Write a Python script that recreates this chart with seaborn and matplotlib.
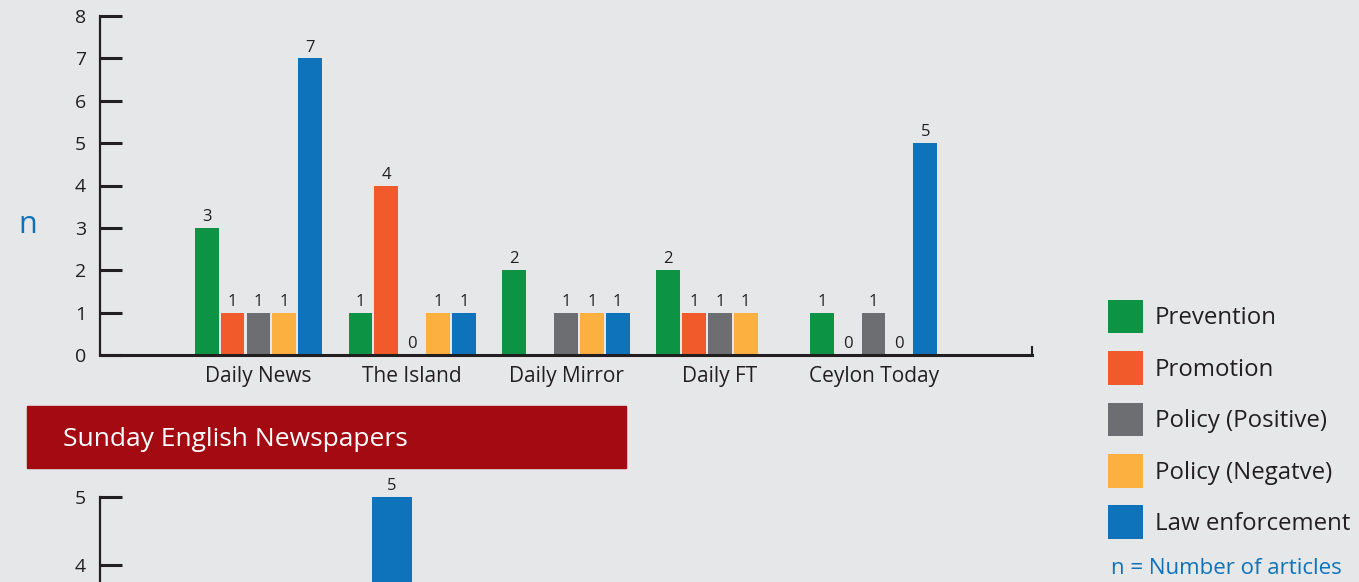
import matplotlib
matplotlib.use('Agg')
import matplotlib.pyplot as plt
from matplotlib.patches import Patch, Rectangle
import seaborn as sns
import pandas as pd

# daily english newspapers (top chart)
papers = ['Daily News', 'The Island', 'Daily Mirror', 'Daily FT', 'Ceylon Today']
themes = ['Prevention', 'Promotion', 'Policy (Positive)', 'Policy (Negatve)', 'Law enforcement']
prevention = [3, 1, 2, 2, 1]
promotion = [1, 4, 0, 1, 0]
policy_pos = [1, 0, 1, 1, 1]
policy_neg = [1, 1, 1, 1, 0]
law_enf = [7, 1, 1, 0, 5]
# zeros that carry no value label in the original
unlabelled = [('Daily Mirror', 'Promotion'), ('Daily FT', 'Law enforcement')]

# sunday english newspapers (only the top of the chart is visible)
sunday_papers = ['Sunday']
sunday_law_enf = [5]

colors = ['#0c9444', '#f15a2b', '#6d6e71', '#fbb040', '#0f73bb']
bg = '#e6e7e9'
ink = '#231f20'
blue_txt = '#0f73bb'

series = [prevention, promotion, policy_pos, policy_neg, law_enf]
rows = []
for theme, vals in zip(themes, series):
    for p, v in zip(papers, vals):
        rows.append({'Paper': p, 'Theme': theme, 'n': v})
df = pd.DataFrame(rows)

sns.set_style('white')
plt.rcParams['font.family'] = ['Open Sans', 'DejaVu Sans']

fig = plt.figure(figsize=(13.59, 5.82), dpi=100, facecolor=bg)

# top chart
ax = fig.add_axes([100/1359, 1-355/582, 932/1359, 339/582])
ax.set_facecolor('none')
sns.barplot(data=df, x='Paper', y='n', hue='Theme', order=papers, hue_order=themes,
            palette=colors, width=0.84, gap=0.08, ax=ax, legend=False, saturation=1,
            edgecolor='none', linewidth=0)
for cont, theme in zip(ax.containers, themes):
    labs = []
    for bar, p in zip(cont, papers):
        h = bar.get_height()
        labs.append('' if (p, theme) in unlabelled else f'{h:.0f}')
    ax.bar_label(cont, labels=labs, padding=2, fontsize=12, color=ink)
ax.set_xlim(-1.03, 5.03)
ax.set_ylim(0, 8)
ax.set_yticks(range(0, 9))
ax.set_xlabel('')
ax.set_ylabel('')
ax.spines['top'].set_visible(False)
ax.spines['right'].set_bounds(0, 0.2)
ax.spines['right'].set_color(ink)
ax.spines['right'].set_linewidth(1.5)
ax.spines['left'].set_color(ink)
ax.spines['left'].set_linewidth(1.6)
ax.spines['bottom'].set_color(ink)
ax.spines['bottom'].set_linewidth(2.2)
ax.tick_params(axis='y', left=True, direction='in', length=16, width=2.2, color=ink,
               labelsize=14, labelcolor=ink, pad=10)
ax.tick_params(axis='x', bottom=False, length=0, labelsize=15, labelcolor=ink, pad=8)
fig.text(18/1359, 1-225/582, 'n', color=blue_txt, fontsize=22, va='center', ha='left')

# banner
fig.patches.append(Rectangle((27/1359, 1-468/582), 599/1359, 62/582,
                             transform=fig.transFigure, color='#a30a12', zorder=0))
fig.text(63/1359, 1-440/582, 'Sunday English Newspapers', color='white',
         fontsize=19, va='center', ha='left')

# bottom chart, cut off by the page
ax2 = fig.add_axes([100/1359, 1-837/582, 932/1359, 340/582])
ax2.set_facecolor('none')
sdf = pd.DataFrame({'Paper': sunday_papers, 'n': sunday_law_enf})
sns.barplot(data=sdf, x='Paper', y='n', color=colors[4], width=0.8, saturation=1,
            edgecolor='none', linewidth=0, ax=ax2)
ax2.bar_label(ax2.containers[0], fmt='%.0f', padding=2, fontsize=12, color=ink)
ax2.set_xlim(-5.84, 12.8)
ax2.set_ylim(0, 5)
ax2.set_yticks([4, 5])
ax2.set_xlabel('')
ax2.set_ylabel('')
ax2.set_xticks([])
for s in ['top', 'right', 'bottom']:
    ax2.spines[s].set_visible(False)
ax2.spines['left'].set_color(ink)
ax2.spines['left'].set_linewidth(1.6)
ax2.tick_params(axis='y', left=True, direction='in', length=16, width=2.2, color=ink,
                labelsize=14, labelcolor=ink, pad=10)

# legend
handles = [Patch(facecolor=c, edgecolor='none', label=t) for c, t in zip(colors, themes)]
fig.legend(handles=handles, loc='upper left', bbox_to_anchor=(1098/1359, 1-290/582),
           frameon=False, fontsize=17.3, handlelength=1.46, handleheight=1.78,
           labelspacing=0.74, handletextpad=0.5, borderaxespad=0, labelcolor=ink)
fig.text(1111/1359, 1-569/582, 'n = Number of articles', color=blue_txt,
         fontsize=16, va='center', ha='left')

fig.savefig('out.png', dpi=100, facecolor=bg)
